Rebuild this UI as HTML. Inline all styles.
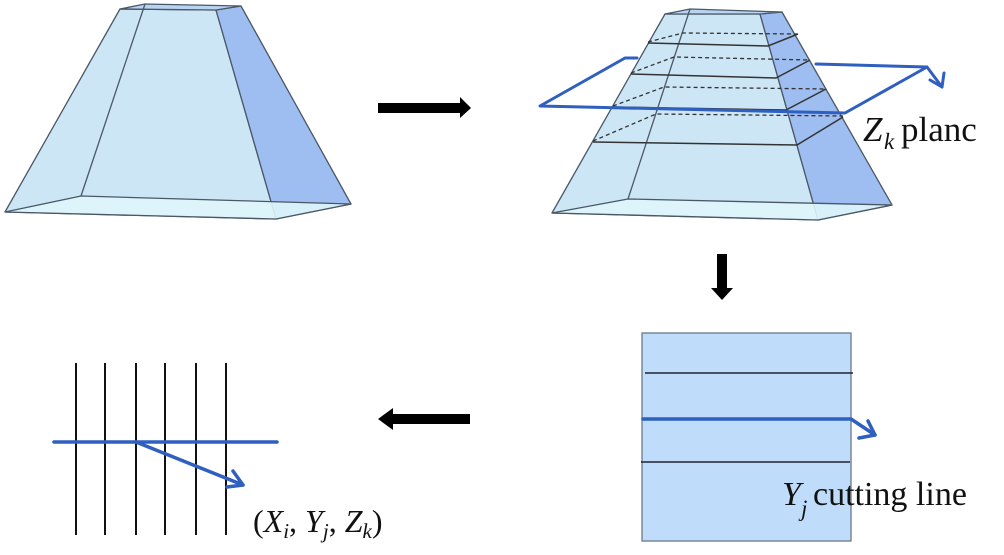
<!DOCTYPE html>
<html><head><meta charset="utf-8"><style>
html,body{margin:0;padding:0;background:#fff;}
svg{display:block;}
text{font-family:"Liberation Serif",serif;fill:#111;}
</style></head><body>
<svg width="1004" height="555" viewBox="0 0 1004 555" xmlns="http://www.w3.org/2000/svg">
<!-- Left frustum -->
<g stroke="#4a5866" stroke-width="1.3" stroke-linejoin="round">
<polygon points="120,9 216,10 276,219 5,212" fill="#cde6f6"/>
<polygon points="216,10 241,6 351,204 276,219" fill="#9ebdf0"/>
<polygon points="5,212 81,196 351,204 276,219" fill="#def5fb" fill-opacity="0.9"/>
<polygon points="120,9 145,4 241,6 216,10" fill="#b8d4f2"/>
<line x1="145" y1="4" x2="81" y2="196"/>
</g>
<!-- Right frustum -->
<g stroke="#4a5866" stroke-width="1.3" stroke-linejoin="round">
<polygon points="665,14 760,14 818,220 552,213" fill="#cde6f6"/>
<polygon points="760,14 782,12 892,205 818,220" fill="#9ebdf0"/>
<polygon points="552,213 628,199 892,205 818,220" fill="#def5fb" fill-opacity="0.9"/>
<polygon points="665,14 690,9 782,12 760,14" fill="#b8d4f2"/>
<line x1="690" y1="9" x2="628" y2="199"/>
</g>
<g stroke="#333" stroke-width="1.5" fill="none">
<polyline points="648,43 768,46 798,34"/>
<polyline points="631,74 776,78 810,60"/>
<polyline points="613,107 786,110 826,89"/>
<polyline points="593,142 797,145 843,117"/>
</g>
<g stroke="#333" stroke-width="1.3" fill="none" stroke-dasharray="4,3">
<polyline points="648,42 683,33 798,34"/>
<polyline points="631,73 674,57 810,60"/>
<polyline points="613,106 664,87 826,89"/>
<polyline points="593,141 656,114 843,116"/>
</g>
<!-- Blue plane -->
<g stroke="#2f5fbf" stroke-width="3" fill="none" stroke-linecap="round" stroke-linejoin="round">
<polyline points="637,58 625,58 540,106 845,113 927,67 816,64"/>
<line x1="927" y1="67" x2="942" y2="87"/>
<polyline points="930,80 942,87 944,73"/>
</g>
<text x="863" y="141" font-size="35" font-style="italic">Z</text>
<text x="884" y="149" font-size="23" font-style="italic">k</text>
<text x="901" y="141" font-size="35">planc</text>
<!-- black arrows -->
<polygon points="378,103 460,103 460,97 471,108 460,118 460,113 378,113" fill="#000"/>
<polygon points="717,254 727,254 727,288 733,288 722,300 711,288 717,288" fill="#000"/>
<polygon points="470,414 393,414 393,408 378,419 393,430 393,424 470,424" fill="#000"/>
<!-- Square -->
<rect x="642" y="333" width="209" height="208" fill="#bfdcfa" stroke="#6a7a8a" stroke-width="1.3"/>
<line x1="645" y1="373" x2="853" y2="373" stroke="#223" stroke-width="1.5"/>
<line x1="641" y1="462" x2="850" y2="462" stroke="#223" stroke-width="1.5"/>
<g stroke="#2f5fbf" stroke-width="3.5" fill="none" stroke-linecap="round" stroke-linejoin="round">
<polyline points="643,419 851,419 875,435"/>
<polyline points="859,438 875,435 868,421"/>
</g>
<text x="782" y="505" font-size="34" font-style="italic">Y</text>
<text x="801" y="516" font-size="23" font-style="italic">j</text>
<text x="813" y="505" font-size="34">cutting line</text>
<!-- Grid -->
<g stroke="#111" stroke-width="2">
<line x1="76" y1="363" x2="76" y2="535"/>
<line x1="105" y1="363" x2="105" y2="535"/>
<line x1="136" y1="363" x2="136" y2="535"/>
<line x1="165" y1="363" x2="165" y2="535"/>
<line x1="196" y1="363" x2="196" y2="535"/>
<line x1="226" y1="363" x2="226" y2="535"/>
</g>
<g stroke="#2f5fbf" stroke-width="3.5" fill="none" stroke-linecap="round" stroke-linejoin="round">
<line x1="54" y1="442" x2="277" y2="442"/>
<line x1="136" y1="442" x2="243" y2="485"/>
<polyline points="227,487 243,485 233,471"/>
</g>
<text x="253" y="532" font-size="32">(<tspan font-style="italic">X</tspan><tspan font-style="italic" font-size="21" dy="6">i</tspan><tspan dy="-6">, </tspan><tspan font-style="italic">Y</tspan><tspan font-style="italic" font-size="21" dy="6">j</tspan><tspan dy="-6">, </tspan><tspan font-style="italic">Z</tspan><tspan font-style="italic" font-size="21" dy="6">k</tspan><tspan dy="-6">)</tspan></text>
</svg>
</body></html>
